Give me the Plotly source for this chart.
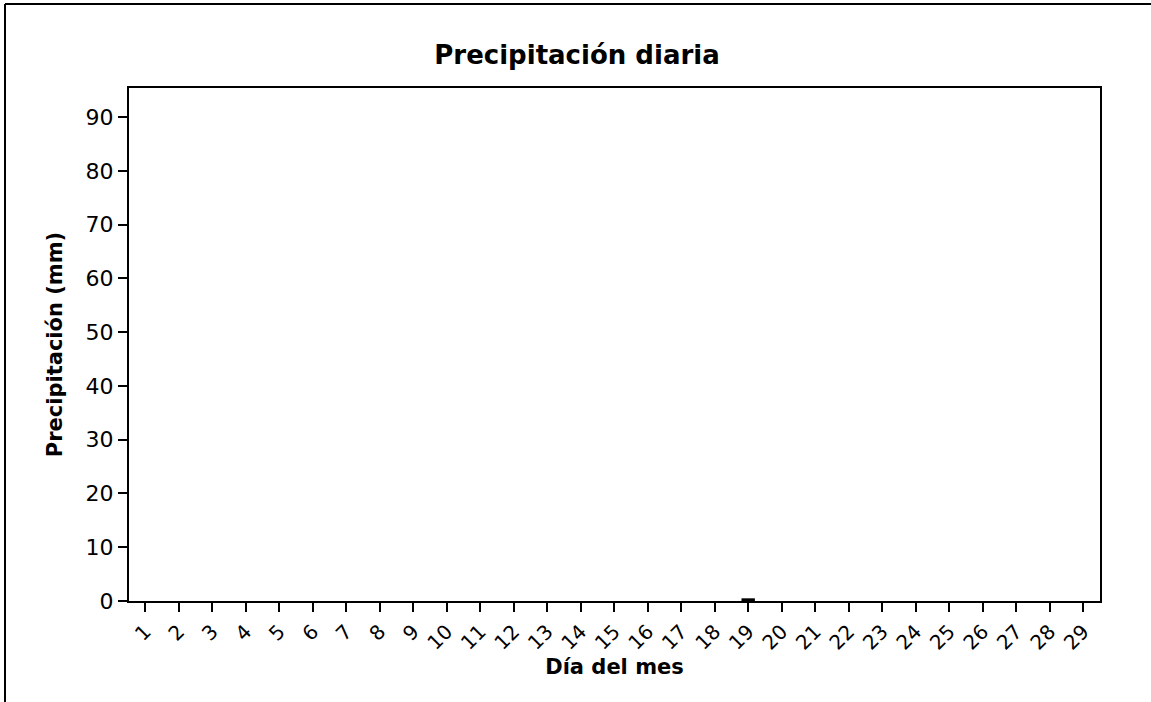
import plotly.graph_objects as go

days = list(range(1, 30))
precip = [0, 0, 0, 0, 0, 0, 0, 0, 0, 0, 0, 0, 0, 0, 0, 0, 0, 0, 0.5, 0, 0, 0, 0, 0, 0, 0, 0, 0, 0]
y_ticks = [0, 10, 20, 30, 40, 50, 60, 70, 80, 90]

W, H = 1151, 702
L, R, T, B = 129, 51, 88, 101
pw, ph = W - L - R, H - T - B

def px(x):
    return (x - L) / pw

def py(y):
    return (H - B - y) / ph

fig = go.Figure(go.Bar(
    x=days, y=precip, width=0.4,
    marker=dict(color="#000000", line=dict(width=0)),
))

font = "DejaVu Sans, Verdana, sans-serif"
fig.update_layout(
    width=W, height=H,
    margin=dict(l=L, r=R, t=T, b=B),
    paper_bgcolor="white", plot_bgcolor="white",
    showlegend=False,
    font=dict(family=font, color="black"),
    title=dict(text="<b>Precipitación diaria</b>", x=px(577), xref="paper", xanchor="center",
               y=1 - 55 / H, yanchor="middle", font=dict(size=26, family=font)),
    shapes=[
        dict(type="line", xref="paper", yref="paper", x0=px(5), x1=px(1160), y0=py(4), y1=py(4),
             line=dict(color="black", width=2)),
        dict(type="line", xref="paper", yref="paper", x0=px(5), x1=px(5), y0=py(4), y1=py(710),
             line=dict(color="black", width=2)),
    ],
)
fig.update_xaxes(
    range=[0.52, 29.5], tickmode="array", tickvals=days, ticktext=[str(d) for d in days],
    tickangle=-45, tickfont=dict(size=20), ticks="outside", ticklen=9, tickwidth=2, tickcolor="black",
    showline=True, linecolor="black", linewidth=2, mirror=True, showgrid=False, zeroline=False,
    title=dict(text="<b>Día del mes</b>", font=dict(size=21), standoff=0),
)
fig.update_yaxes(
    range=[0, 95.4], tickmode="array", tickvals=y_ticks, tickfont=dict(size=22),
    ticks="outside", ticklen=9, tickwidth=2, tickcolor="black",
    showline=True, linecolor="black", linewidth=2, mirror=True, showgrid=False, zeroline=False,
    title=dict(text="<b>Precipitación (mm)</b>", font=dict(size=21), standoff=17),
)
fig.write_html("out.html", config={"displayModeBar": False},
               post_script="document.body.style.margin='0';document.body.style.overflow='hidden';")
